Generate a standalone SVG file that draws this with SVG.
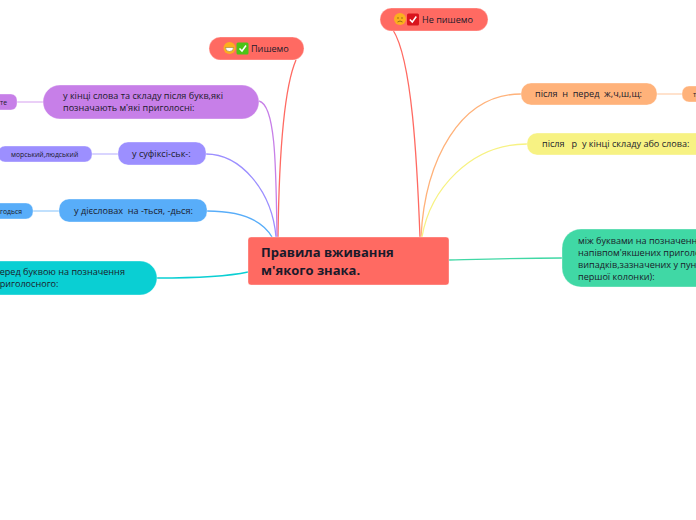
<svg xmlns="http://www.w3.org/2000/svg" width="696" height="520" viewBox="0 0 696 520">
<style>
text{font-family:"Open Sans","Noto Sans","Liberation Sans",sans-serif;fill:#1a1a2a;white-space:pre}
.n{stroke:#fff;stroke-opacity:.35;stroke-width:1}
.t10{font-size:9.1px}
.t7{font-size:6.8px;font-weight:500}
.c{fill:none;stroke-width:1.3}
</style>
<rect width="696" height="520" fill="#fff"/>
<g id="connectors">
<path class="c" d="M278 237C279 160 283 90 296 60" stroke="#ff6a62"/>
<path class="c" d="M420 237C417 160 412 60 393 30" stroke="#ff6a62"/>
<path class="c" d="M277 237C276 170 276 105 259 101" stroke="#c77fe8"/>
<path class="c" d="M276 237C272 190 240 154 206 154" stroke="#9c8fff"/>
<path class="c" d="M272 237C262 220 240 211 207 211" stroke="#58adf9"/>
<path class="c" d="M248 272C225 277 190 278 157 278" stroke="#0acfd3"/>
<path class="c" d="M421 237C425 160 460 94 521 94" stroke="#ffb27a"/>
<path class="c" d="M422 237C430 190 470 144 527 144" stroke="#f7f283"/>
<path class="c" d="M449 260C490 259 525 258 562 258" stroke="#40d8a5"/>
<path d="M17 102H43" fill="none" stroke="#e3bff4" stroke-width="1.5"/>
<path d="M92 154H118" fill="none" stroke="#cdc7ff" stroke-width="1.5"/>
<path d="M33 211H59" fill="none" stroke="#abd6fc" stroke-width="1.5"/>
<path d="M657 94H682" fill="none" stroke="#ffd8bc" stroke-width="1.5"/>
</g>
<g id="node-center">
<rect class="n" x="248" y="237" width="201" height="48" rx="3" fill="#ff6a62"/>
<text x="261" y="257" font-size="13px" font-weight="700" fill="#111">Правила вживання</text>
<text x="261" y="275" font-size="13px" font-weight="700" fill="#111">м'якого знака.</text>
</g>
<g id="node-pyshemo">
<rect class="n" x="209" y="37" width="95" height="23" rx="11.5" fill="#ff6a62"/>
<circle cx="229.500" cy="48" r="6" fill="#fbb01e"/>
<path d="M225.500 47.500h8a4 4 0 0 1-8 0z" fill="#fff" stroke="#8a6a20" stroke-width=".5"/>
<rect x="236.500" y="42.500" width="12" height="12" rx="1.500" fill="#4cc417"/>
<path d="M239.500 48.500l2.500 2.500 4-5.500" fill="none" stroke="#fff" stroke-width="1.500"/>
<text x="251" y="52" class="t10">Пишемо</text>
</g>
<g id="node-ne-pyshemo">
<rect class="n" x="380" y="8" width="108" height="23" rx="11.5" fill="#ff6a62"/>
<circle cx="400" cy="19" r="6" fill="#fbb01e"/>
<circle cx="398" cy="18" r=".7" fill="#7a5a10"/>
<circle cx="402" cy="18" r=".7" fill="#7a5a10"/>
<path d="M397.500 22q2.500-2 5 0" fill="none" stroke="#7a5a10" stroke-width=".8"/>
<rect x="407" y="13.500" width="12" height="12" rx="1.500" fill="#d9141c"/>
<path d="M409.800 19.500l2.500 2.500 4-5.500" fill="none" stroke="#fff" stroke-width="1.500"/>
<text x="422" y="23" class="t10">Не пишемо</text>
</g>
<g id="node-purple">
<rect class="n" x="43" y="85" width="216" height="34" rx="17" fill="#c77fe8"/>
<text x="63" y="99" class="t10">у кінці слова та складу після букв,які</text>
<text x="63" y="111" class="t10">позначають м'які приголосні:</text>
</g>
<g id="node-purple-leaf">
<rect class="n" x="-40" y="94" width="57" height="16" rx="6" fill="#c77fe8"/>
<text x="0" y="105" class="t7">те</text>
</g>
<g id="node-violet">
<rect class="n" x="118" y="142" width="88" height="23" rx="10" fill="#9c8fff"/>
<text x="132" y="157" class="t10">у суфіксі-ськ-:</text>
</g>
<g id="node-violet-leaf">
<rect class="n" x="-2" y="146" width="94" height="16" rx="7" fill="#9c8fff"/>
<text x="11" y="157" class="t7">морський,людський</text>
</g>
<g id="node-blue">
<rect class="n" x="59" y="199" width="148" height="23" rx="10" fill="#58adf9"/>
<text x="74" y="214" class="t10">у дієсловах  на -ться, -дься:</text>
</g>
<g id="node-blue-leaf">
<rect class="n" x="-40" y="203" width="73" height="16" rx="7" fill="#58adf9"/>
<text x="0" y="214" class="t7">годься</text>
</g>
<g id="node-teal">
<rect class="n" x="-60" y="261" width="217" height="34" rx="17" fill="#0acfd3"/>
<text x="-6" y="275" class="t10">перед буквою на позначення</text>
<text x="-6" y="287" class="t10">приголосного:</text>
</g>
<g id="node-orange">
<rect class="n" x="521" y="83" width="136" height="22" rx="10" fill="#ffb27a"/>
<text x="535" y="97" class="t10">після  н  перед  ж,ч,ш,щ:</text>
</g>
<g id="node-orange-leaf">
<rect class="n" x="682" y="86" width="60" height="16" rx="7" fill="#ffb27a"/>
<text x="693" y="97" class="t7">т</text>
</g>
<g id="node-yellow">
<rect class="n" x="527" y="133" width="220" height="22" rx="10" fill="#f7f283"/>
<text x="542" y="147" class="t10">після   р  у кінці складу або слова:</text>
</g>
<g id="node-green">
<rect class="n" x="562" y="229" width="220" height="58" rx="19" fill="#40d8a5"/>
<text x="578" y="244" class="t10">між буквами на позначенн</text>
<text x="578" y="256" class="t10">напівпом'якшених приголо</text>
<text x="578" y="268" class="t10">випадків,зазначених у пун</text>
<text x="578" y="280" class="t10">першої колонки):</text>
</g>
</svg>
